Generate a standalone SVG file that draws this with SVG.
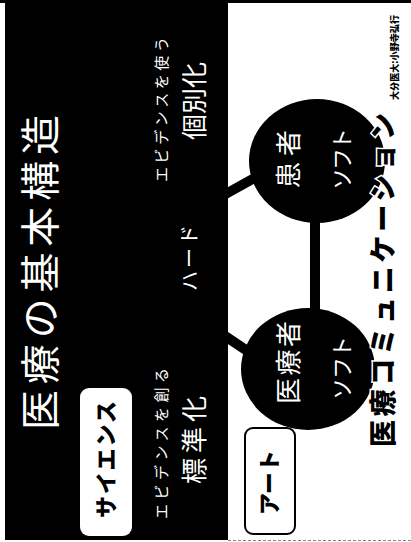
<svg xmlns="http://www.w3.org/2000/svg" width="411" height="542" viewBox="0 0 411 542">
<style>
.w{fill:#fff;font-family:"Noto Sans CJK JP","Noto Sans",sans-serif;font-weight:400}
.b{fill:#000;font-family:"Noto Sans CJK JP","Noto Sans",sans-serif;font-weight:900}
.node{fill:#000}
.conn{stroke:#000;stroke-width:10;fill:none}
</style>
<rect x="0" y="0" width="411" height="542" fill="#fff"/>
<rect x="0" y="0" width="411" height="3" fill="#000"/>
<rect id="panel" x="5" y="2" width="223" height="538" fill="#000"/>
<line x1="228" y1="540.5" x2="411" y2="540.5" stroke="#888" stroke-width="1" stroke-dasharray="3,2"/>

<g id="title"><text class="w" font-size="40" transform="translate(55,430) rotate(-90)" textLength="315" lengthAdjust="spacing">医療の基本構造</text></g>

<g id="science">
<rect x="80" y="388" width="52" height="148" rx="9" fill="#fff"/>
<text class="b" font-size="22" transform="translate(114,518) rotate(-90)" textLength="117" lengthAdjust="spacing">サイエンス</text>
</g>
<g id="standard">
<text class="w" font-size="15" transform="translate(167,519) rotate(-90)" textLength="151" lengthAdjust="spacing">エビデンスを創る</text>
<text class="w" font-size="26" transform="translate(204,484) rotate(-90)" textLength="88" lengthAdjust="spacing">標準化</text>
</g>
<g id="individual">
<text class="w" font-size="15" transform="translate(167,182) rotate(-90)" textLength="145" lengthAdjust="spacing">エビデンスを使う</text>
<text class="w" font-size="26" transform="translate(204,140) rotate(-90)" textLength="78" lengthAdjust="spacing">個別化</text>
</g>
<g id="hard"><text class="w" font-size="20" transform="translate(197,291) rotate(-90)" textLength="66" lengthAdjust="spacing">ハード</text></g>

<g id="connectors">
<line class="conn" x1="222" y1="196" x2="258" y2="176"/>
<line class="conn" x1="222" y1="334" x2="258" y2="358"/>
<line class="conn" x1="315" y1="215" x2="315" y2="315"/>
</g>

<g id="patient">
<ellipse class="node" cx="317" cy="161" rx="68" ry="62"/>
<text class="w" font-size="26" transform="translate(298,188) rotate(-90)" textLength="58" lengthAdjust="spacing">患者</text>
<text class="w" font-size="22" transform="translate(350,190) rotate(-90)" textLength="62" lengthAdjust="spacing">ソフト</text>
</g>
<g id="staff">
<ellipse class="node" cx="308" cy="369" rx="67" ry="61"/>
<text class="w" font-size="26" transform="translate(298,404) rotate(-90)" textLength="83" lengthAdjust="spacing">医療者</text>
<text class="w" font-size="22" transform="translate(350,400) rotate(-90)" textLength="64" lengthAdjust="spacing">ソフト</text>
</g>

<g id="art">
<rect x="245" y="428" width="50" height="106" rx="8" fill="#fff" stroke="#000" stroke-width="2"/>
<text class="b" font-size="22" transform="translate(277,515) rotate(-90)" textLength="65" lengthAdjust="spacing">アート</text>
</g>

<g id="comm"><text class="b" font-size="27" stroke="#fff" stroke-width="3" paint-order="stroke" transform="translate(393,447) rotate(-90)" textLength="334" lengthAdjust="spacing">医療コミュニケーション</text></g>

<g id="credit"><text class="b" font-size="9" transform="translate(398,100) rotate(-90)" textLength="85" lengthAdjust="spacingAndGlyphs">大分医大:小野寺弘行</text></g>
</svg>
